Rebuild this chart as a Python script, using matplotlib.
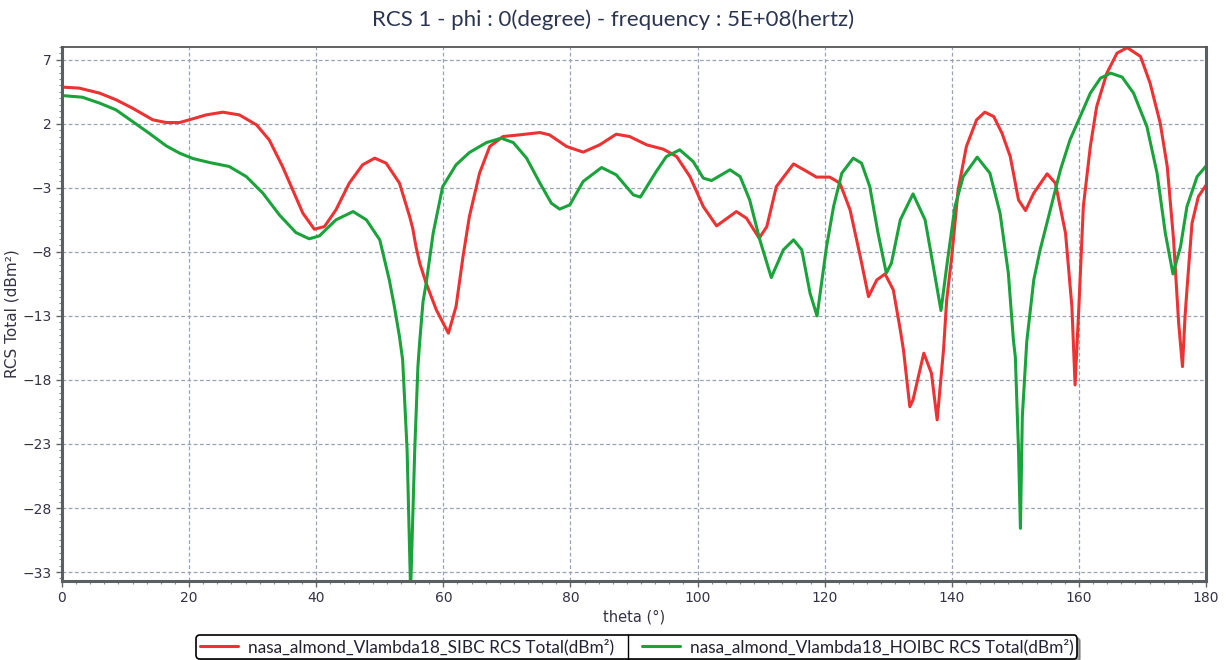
import matplotlib
matplotlib.use("Agg")
import matplotlib.pyplot as plt
from matplotlib.ticker import MultipleLocator, FixedLocator
from matplotlib.lines import Line2D

theta_sibc = [0, 2.7, 5.9, 8.5, 11.1, 14.3, 16.4, 18.5, 20.0, 22.7, 25.3, 27.9, 30.6, 32.6, 34.7,
              36.3, 37.9, 39.7, 41.3, 43.1, 45.2, 47.3, 49.2, 51.0, 53.1, 54.7, 55.2, 55.7, 56.3,
              57.3, 58.9, 60.8, 62.0, 63.1, 64.1, 65.7, 67.3, 69.4, 72.0, 75.2, 76.7, 79.4, 82.0,
              84.6, 87.2, 89.3, 92.0, 94.6, 96.7, 98.8, 100.9, 103.0, 106.1, 107.7, 109.7, 110.9,
              112.4, 115.1, 117.2, 118.7, 120.8, 122.4, 124.0, 125.6, 126.9, 128.2, 129.5, 130.8,
              131.9, 132.4, 133.4, 133.9, 135.6, 136.8, 137.7, 138.7, 139.2, 140.0, 141.0, 142.3,
              143.9, 145.2, 146.6, 147.9, 149.2, 150.5, 151.6, 152.9, 155.0, 156.3, 157.9, 158.9,
              159.4, 160.0, 160.7, 161.8, 162.8, 164.4, 166.0, 167.6, 169.7, 171.2, 172.8, 173.9,
              174.9, 175.7, 176.3, 176.7, 177.0, 177.8, 178.8, 180.0]
rcs_sibc = [4.87, 4.79, 4.4, 3.88, 3.22, 2.31, 2.1, 2.1, 2.31, 2.7, 2.91, 2.7, 1.92, 0.75, -1.33,
            -3.16, -4.98, -6.23, -6.02, -4.72, -2.63, -1.2, -0.68, -1.07, -2.63, -5.24, -6.2, -7.6, -8.9,
            -10.45, -12.53, -14.35, -12.27, -8.36, -5.24, -1.85, 0.23, 1.01, 1.14, 1.32, 1.14, 0.23, -0.21,
            0.36, 1.19, 1.01, 0.36, 0.02, -0.55, -2.12, -4.46, -5.97, -4.85, -5.37, -6.93, -6.02,
            -2.9, -1.13, -1.72, -2.16, -2.16, -2.63, -4.72, -8.36, -11.49, -10.19, -9.72, -10.97,
            -14.09, -15.66, -20.09, -19.56, -15.91, -17.48, -21.12, -15.66, -11.75, -8.36, -3.16, 0.23,
            2.31, 2.91, 2.57, 1.27, -0.55, -3.94, -4.77, -3.41, -1.9, -2.63, -6.54, -12.27,
            -18.39, -12.27, -4.46, 0.23, 3.35, 5.96, 7.52, 7.95, 7.26, 5.18, 2.05, -1.33,
            -7.06, -13.57, -16.96, -13.05, -10.97, -5.76, -3.68, -2.8]

theta_hoibc = [0, 3.2, 5.9, 8.5, 11.1, 13.7, 16.4, 18.5, 20.6, 23.2, 26.3, 29.0, 31.6, 34.2, 36.8,
               38.9, 40.5, 43.1, 45.8, 47.9, 50.0, 51.5, 52.3, 53.1, 53.6, 54.3, 54.85, 55.5, 56.0,
               56.3, 56.8, 57.3, 58.4, 59.9, 62.0, 64.1, 66.8, 69.1, 71.0, 73.1, 75.2, 77.0, 78.3,
               79.9, 82.0, 84.9, 87.2, 89.9, 91.0, 93.5, 95.1, 97.2, 99.3, 100.9, 102.2, 105.1,
               106.7, 108.2, 109.8, 111.6, 113.5, 115.1, 116.4, 117.7, 118.8, 120.3, 121.4, 122.7,
               124.5, 125.8, 127.1, 128.4, 129.7, 130.5, 131.9, 133.9, 135.8, 137.1, 138.3, 139.2,
               140.5, 141.8, 144.0, 146.0, 147.6, 148.9, 149.7, 150.0, 150.5, 150.8, 151.1, 151.8,
               152.9, 153.9, 155.5, 157.1, 158.6, 160.2, 161.8, 163.4, 165.0, 166.8, 168.6, 170.7,
               172.3, 173.6, 174.8, 176.0, 177.0, 178.6, 180.0]
rcs_hoibc = [4.21, 4.08, 3.62, 3.09, 2.18, 1.27, 0.28, -0.29, -0.71, -1.02, -1.33, -2.12, -3.41, -5.11, -6.49,
             -6.98, -6.75, -5.5, -4.85, -5.5, -7.06, -10.19, -12.27, -14.62, -16.44, -23.47, -34.5, -23.47, -16.96,
             -14.9, -11.9, -10.45, -6.54, -2.9, -1.2, -0.24, 0.54, 0.88, 0.54, -0.68, -2.63, -4.2, -4.66,
             -4.33, -2.5, -1.41, -1.98, -3.55, -3.72, -1.72, -0.55, -0.03, -0.94, -2.24, -2.43, -1.59,
             -2.12, -3.94, -7.06, -10.0, -7.84, -7.06, -7.84, -11.23, -13.0, -7.58, -4.46, -1.85,
             -0.68, -1.07, -2.9, -6.54, -9.66, -8.88, -5.5, -3.47, -5.5, -9.15, -12.58, -9.15,
             -4.46, -2.12, -0.6, -1.85, -4.98, -9.66, -14.9, -16.2, -23.47, -29.59, -20.87, -15.0,
             -10.19, -7.84, -4.72, -1.59, 0.75, 2.57, 4.4, 5.57, 5.96, 5.65, 4.4, 1.79,
             -1.85, -6.54, -9.72, -7.58, -4.46, -2.12, -1.3]

y_ticks = [7, 2, -3, -8, -13, -18, -23, -28, -33]
x_ticks = [0, 20, 40, 60, 80, 100, 120, 140, 160, 180]

title = "RCS 1 - phi : 0(degree) - frequency : 5E+08(hertz)"
label_sibc = "nasa_almond_Vlambda18_SIBC RCS Total(dBm²)"
label_hoibc = "nasa_almond_Vlambda18_HOIBC RCS Total(dBm²)"

W, H = 1227, 660
fig = plt.figure(figsize=(W/100, H/100), dpi=100)
ax = fig.add_axes([62/W, 1-581/H, (1206-62)/W, (581-47)/H])

ax.plot(theta_sibc, rcs_sibc, color="#ec3232", lw=2.2, label=label_sibc,
        solid_joinstyle="round", solid_capstyle="round")
ax.plot(theta_hoibc, rcs_hoibc, color="#1aa33a", lw=2.2, label=label_hoibc,
        solid_joinstyle="round", solid_capstyle="round")

ax.set_xlim(0, 180)
ax.set_ylim(-33.7, 8.0)
ax.yaxis.set_major_locator(FixedLocator(y_ticks))
ax.xaxis.set_major_locator(FixedLocator(x_ticks))
ax.xaxis.set_minor_locator(MultipleLocator(20/9))
ax.yaxis.set_minor_locator(MultipleLocator(0.5))

ax.grid(True, which="major", color="#9aa3b5", linestyle=(0, (3, 2)), linewidth=0.9)
ax.tick_params(axis="both", which="major", direction="out", length=4, width=1, color="#666666",
               labelsize=10, labelcolor="#333344")
ax.tick_params(axis="both", which="minor", direction="out", length=2.5, width=0.8, color="#888888")
for lbl in ax.get_xticklabels() + ax.get_yticklabels():
    lbl.set_fontfamily("DejaVu Sans")

for side in ["left", "bottom", "right"]:
    ax.spines[side].set_linewidth(2.2)
    ax.spines[side].set_color("#5a6062")
ax.spines["top"].set_linewidth(1.3)
ax.spines["top"].set_color("#555555")

fig.text(0.5, 1-20/H, title, ha="center", va="center", fontsize=16,
         family="Lato", color="#2c3550")
ax.set_xlabel("theta (°)", fontsize=10.5, color="#333344", family="DejaVu Sans", labelpad=3)
ax.set_ylabel("RCS Total (dBm²)", fontsize=11, color="#333344", family="DejaVu Sans", labelpad=2)

leg_size = 12.4
hl, htp = 2.2, 0.6
leg = fig.legend(loc="center", bbox_to_anchor=(0.519, 1-647/H), ncol=2, frameon=True,
                 fancybox=True, shadow=True, prop={"family": "Lato", "size": leg_size},
                 handlelength=hl, columnspacing=1.6, borderpad=0.2, handletextpad=htp)
leg.get_frame().set_edgecolor("black")
leg.get_frame().set_linewidth(1.2)
for t in leg.get_texts():
    t.set_color("#222233")

# vertical divider between the two legend entries
fig.canvas.draw()
r = fig.canvas.get_renderer()
fb = leg.get_frame().get_window_extent(r)
t0 = leg.get_texts()[0].get_window_extent(r)
t1 = leg.get_texts()[1].get_window_extent(r)
fs_px = leg_size * 100 / 72
handle_left = t1.x0 - (hl + htp) * fs_px
xdiv = (t0.x1 + handle_left) / 2
fig.add_artist(Line2D([xdiv / W, xdiv / W], [fb.y0 / H, fb.y1 / H], color="black", lw=1.0,
                      transform=fig.transFigure, zorder=20))

fig.savefig("out.png", dpi=100)
